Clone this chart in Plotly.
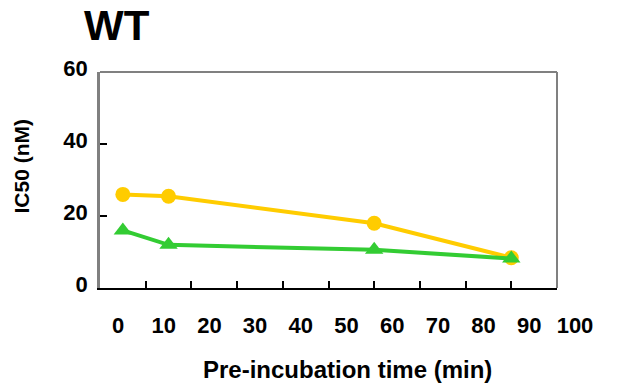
import plotly.graph_objects as go

time_min = [5, 15, 60, 90]
series_yellow = [26.0, 25.5, 18.0, 8.4]
series_green = [16.0, 12.0, 10.6, 8.2]
x_ticks = [0, 10, 20, 30, 40, 50, 60, 70, 80, 90, 100]
y_ticks = [0, 20, 40, 60]

FONT = "Liberation Sans, Arial, sans-serif"

fig = go.Figure()
fig.add_trace(go.Scatter(
    x=time_min, y=series_yellow, mode="lines+markers",
    line=dict(color="#FFCC00", width=4),
    marker=dict(symbol="circle", size=15, color="#FFCC00"),
    showlegend=False, cliponaxis=False))
fig.add_trace(go.Scatter(
    x=time_min, y=series_green, mode="lines+markers",
    line=dict(color="#33CC33", width=4),
    marker=dict(symbol="triangle-up", size=16, color="#33CC33"),
    showlegend=False, cliponaxis=False))

fig.update_layout(
    width=621, height=384,
    margin=dict(l=100, r=64, t=72, b=96),
    paper_bgcolor="white", plot_bgcolor="white",
    font=dict(family=FONT, size=22, color="black"),
    xaxis=dict(range=[0, 100], tickvals=x_ticks, ticktext=[str(v) for v in x_ticks],
               showgrid=False, zeroline=False, showline=True, linecolor="black", linewidth=2,
               ticks="inside", ticklen=7, tickwidth=1.5, tickcolor="black",
               tickfont=dict(family=FONT, size=22, color="black", weight="bold"),
               ticklabelstandoff=17, ticklabelshift=18),
    yaxis=dict(range=[0, 60], tickvals=y_ticks, ticktext=[str(v) for v in y_ticks],
               showgrid=False, zeroline=False, showline=True, linecolor="#808080", linewidth=2.5,
               ticks="inside", ticklen=7, tickwidth=1.5, tickcolor="black",
               tickfont=dict(family=FONT, size=22, color="black", weight="bold"),
               ticklabelstandoff=5, ticklabelshift=-4),
    shapes=[
        dict(type="line", xref="paper", yref="paper", x0=0, x1=1, y0=1, y1=1,
             line=dict(color="#808080", width=2)),
        dict(type="line", xref="paper", yref="paper", x0=1, x1=1, y0=0, y1=1,
             line=dict(color="#808080", width=2)),
    ],
    annotations=[
        dict(text="<b>WT</b>", xref="paper", yref="paper", x=(116.5 - 100) / 457, y=(288 - 25) / 216,
             xanchor="center", yanchor="middle", showarrow=False,
             font=dict(family=FONT, size=42, color="black")),
        dict(text="<b>Pre-incubation time (min)</b>", xref="paper", yref="paper",
             x=(347.5 - 100) / 457, y=(288 - 369) / 216, xanchor="center", yanchor="middle",
             showarrow=False, font=dict(family=FONT, size=24, color="black")),
        dict(text="<b>IC50 (nM)</b>", xref="paper", yref="paper",
             x=(21 - 100) / 457, y=(288 - 166.5) / 216, xanchor="center", yanchor="middle",
             textangle=-90, showarrow=False, font=dict(family=FONT, size=21, color="black")),
    ],
)

fig.write_html("out.html")
